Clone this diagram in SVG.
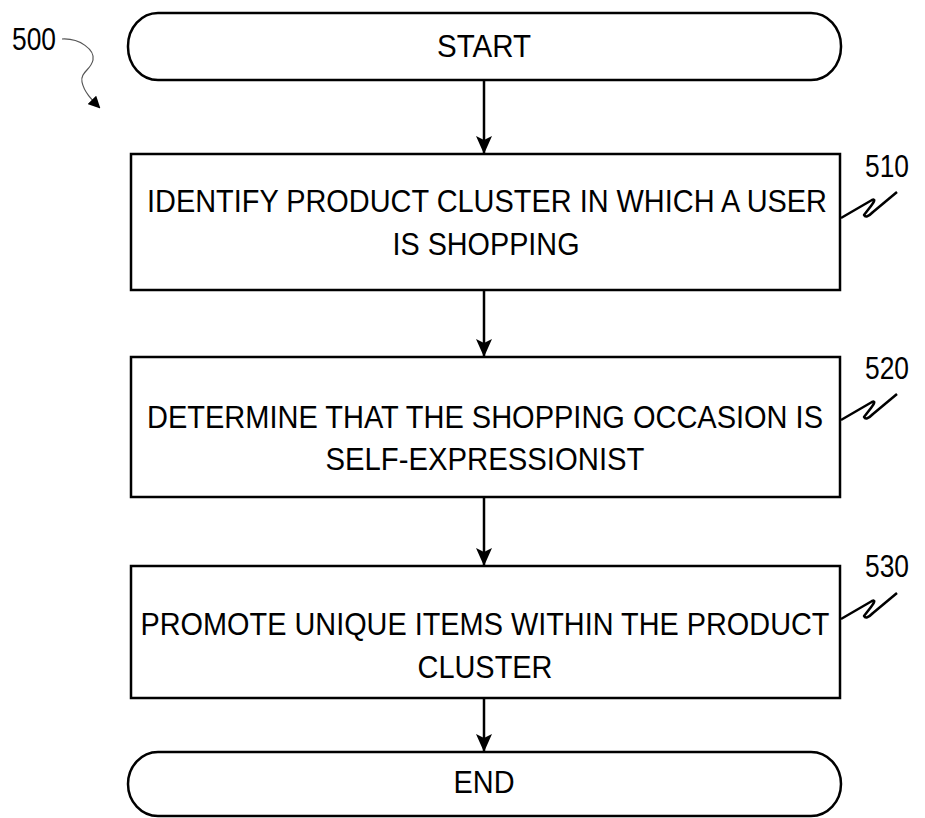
<svg xmlns="http://www.w3.org/2000/svg" width="925" height="818" viewBox="0 0 925 818">
<style>
  .shape { fill: #fff; stroke: #000; stroke-width: 2.5; }
  .txt { font-family: "Liberation Sans", Arial, sans-serif; font-size: 31px; fill: #000; text-anchor: middle; }
  .lbl { font-family: "Liberation Sans", Arial, sans-serif; font-size: 32px; fill: #000; text-anchor: middle; }
  .conn { stroke: #000; stroke-width: 2.5; fill: none; }
  .squig { stroke: #000; stroke-width: 2.5; fill: none; stroke-linejoin: round; }
  .ref { stroke: #555; stroke-width: 1.2; fill: none; }
</style>
<defs>
  <marker id="arrow" markerUnits="userSpaceOnUse" markerWidth="18" markerHeight="16" refX="17" refY="8" orient="auto" viewBox="0 0 18 16">
    <path d="M0,0 L4,8 L0,16 L18,8 Z" fill="#000"/>
  </marker>
  <marker id="arrowSmall" markerUnits="userSpaceOnUse" markerWidth="12" markerHeight="12" refX="10" refY="6" orient="auto" viewBox="0 0 12 12">
    <path d="M0,0 L12,6 L0,12 Z" fill="#000"/>
  </marker>
</defs>

<g id="ref500">
  <text class="lbl" x="34" y="50" textLength="44" lengthAdjust="spacingAndGlyphs">500</text>
  <path class="ref" d="M62,39 C80,38 95,50 93,60 C91,70 80,72 82,82 C84,92 92,100 99,107" marker-end="url(#arrowSmall)"/>
</g>

<g id="start">
  <rect class="shape" x="128" y="13" width="713" height="67" rx="30" ry="33"/>
  <text class="txt" x="484" y="57" textLength="94" lengthAdjust="spacingAndGlyphs">START</text>
</g>

<g id="step510">
  <rect class="shape" x="131" y="154" width="709" height="136"/>
  <text class="txt" x="487" y="212" textLength="680" lengthAdjust="spacingAndGlyphs">IDENTIFY PRODUCT CLUSTER IN WHICH A USER</text>
  <text class="txt" x="486" y="255" textLength="187" lengthAdjust="spacingAndGlyphs">IS SHOPPING</text>
  <text class="lbl" x="887" y="177" textLength="44" lengthAdjust="spacingAndGlyphs">510</text>
  <path class="squig" d="M841,218 L872,200 Q877,198 871,206 L864,215 Q866,219 873,212 L897,192"/>
</g>

<g id="step520">
  <rect class="shape" x="131" y="357" width="709" height="140"/>
  <text class="txt" x="485" y="428" textLength="676" lengthAdjust="spacingAndGlyphs">DETERMINE THAT THE SHOPPING OCCASION IS</text>
  <text class="txt" x="485" y="470" textLength="319" lengthAdjust="spacingAndGlyphs">SELF-EXPRESSIONIST</text>
  <text class="lbl" x="887" y="379" textLength="44" lengthAdjust="spacingAndGlyphs">520</text>
  <path class="squig" d="M841,420 L872,402 Q877,400 871,408 L864,417 Q866,421 873,414 L897,394"/>
</g>

<g id="step530">
  <rect class="shape" x="131" y="566" width="709" height="132"/>
  <text class="txt" x="485" y="635" textLength="689" lengthAdjust="spacingAndGlyphs">PROMOTE UNIQUE ITEMS WITHIN THE PRODUCT</text>
  <text class="txt" x="485" y="678" textLength="135" lengthAdjust="spacingAndGlyphs">CLUSTER</text>
  <text class="lbl" x="887" y="577" textLength="44" lengthAdjust="spacingAndGlyphs">530</text>
  <path class="squig" d="M841,619 L872,601 Q877,599 871,607 L864,616 Q866,620 873,613 L897,593"/>
</g>

<g id="end">
  <rect class="shape" x="128" y="752" width="713" height="64" rx="30" ry="32"/>
  <text class="txt" x="484" y="793" textLength="61" lengthAdjust="spacingAndGlyphs">END</text>
</g>

<g id="connectors">
  <line class="conn" x1="484" y1="80" x2="484" y2="153" marker-end="url(#arrow)"/>
  <line class="conn" x1="484" y1="290" x2="484" y2="356" marker-end="url(#arrow)"/>
  <line class="conn" x1="484" y1="497" x2="484" y2="565" marker-end="url(#arrow)"/>
  <line class="conn" x1="484" y1="698" x2="484" y2="751" marker-end="url(#arrow)"/>
</g>
</svg>
